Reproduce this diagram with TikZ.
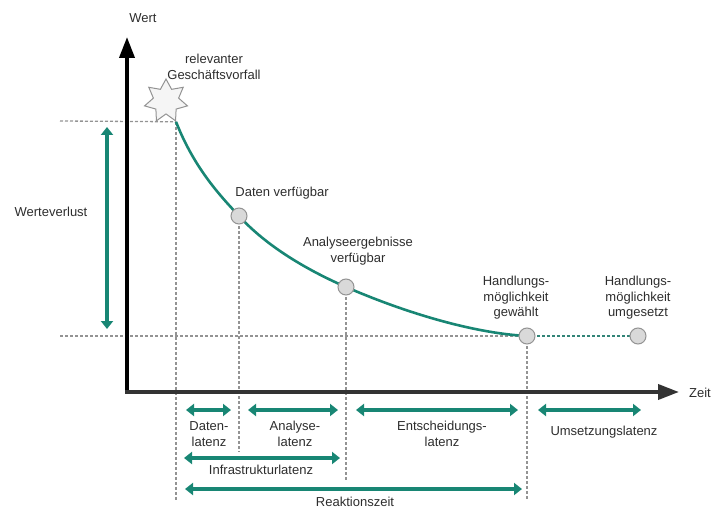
\documentclass[tikz,border=0pt]{standalone}
\usepackage{fontspec}
\setmainfont{Liberation Sans}
\usetikzlibrary{arrows.meta,shapes.geometric,positioning}
\definecolor{latgreen}{RGB}{24,134,116}
\definecolor{txtgray}{RGB}{45,45,45}

\begin{document}
\begin{tikzpicture}[x=1pt,y=-1pt,
  lbl/.style={font=\fontsize{13}{15.5}\selectfont, text=txtgray, align=center, inner sep=1pt},
  eventnode/.style={circle, draw=gray!85, fill=gray!30, line width=1pt, minimum size=16pt, inner sep=0pt},
  guide/.style={draw=gray!85, line width=1.3pt, dash pattern=on 3pt off 2pt},
  span/.style={draw=latgreen, line width=4.6pt, {Triangle[width=12pt,length=8pt]}-{Triangle[width=12pt,length=8pt]}},
  axis/.style={line width=3.8pt, line cap=rect, -{Triangle[width=15pt,length=21pt]}}]
  \useasboundingbox (0,0) rectangle (713,508);

  % axes
  \coordinate (origin) at (127,392);
  \coordinate (ytip) at (127,37);
  \coordinate (xtip) at (679,392);
  \node[lbl] (wert) at (143,18) {Wert};
  \node[lbl] (zeit) at (700,393) {Zeit};

  % events
  \node[star, star points=7, star point ratio=1.7, minimum size=44pt, inner sep=0pt,
        draw=gray!85, fill=gray!8, line width=1pt] (vorfall) at (166,101) {};
  \coordinate (start) at (vorfall.outer point 5);
  \node[lbl] (lvorfall) at (214,67) {relevanter\\Geschäftsvorfall};

  \coordinate (daten) at (239,216);
  \coordinate (analyse) at (346,287);
  \coordinate (gewaehlt) at (527,336);
  \coordinate (umgesetzt) at (638,336);

  % guide lines
  \coordinate (topleft) at (60,121);
  \coordinate (baseleft) at (60,336);
  \draw[guide] (topleft) -- (start);
  \draw[guide] (baseleft) -- (gewaehlt);
  \draw[guide] (start) -- ++(0,379);
  \draw[guide] (daten) -- ++(0,236);
  \draw[guide] (analyse) -- ++(0,193);
  \draw[guide] (gewaehlt) -- ++(0,164);
  \draw[guide, draw=latgreen!75!gray] (gewaehlt) -- (umgesetzt);

  \draw[axis] (origin) -- (ytip);
  \draw[axis, black!80] (origin) -- (xtip);

  % value curve
  \draw[latgreen, line width=2.6pt] (start)
    .. controls (195,170) and (222,197.5) .. (daten)
    .. controls (270,250) and (315,273.5) .. (analyse)
    .. controls (400,310.5) and (470,333) .. (gewaehlt);

  \node[eventnode] (edaten) at (daten) {};
  \node[eventnode] (eanalyse) at (analyse) {};
  \node[eventnode] (egewaehlt) at (gewaehlt) {};
  \node[eventnode] (eumgesetzt) at (umgesetzt) {};

  \node[lbl] (ldaten) at (282,193) {Daten verfügbar};
  \node[lbl] (lanalyse) at (358,251) {Analyseergebnisse\\verfügbar};
  \node[lbl] (lgewaehlt) at (516,298) {Handlungs-\\möglichkeit\\gewählt};
  \node[lbl] (lumgesetzt) at (638,298) {Handlungs-\\möglichkeit\\umgesetzt};

  % value loss
  \coordinate (wvtop) at (107,127);
  \coordinate (wvbot) at (107,329);
  \draw[span] (wvtop) -- (wvbot);
  \node[lbl] (lwv) at (51,212) {Werteverlust};

  % latencies
  \coordinate (dl1) at (186,410); \coordinate (dl2) at (231,410);
  \coordinate (al1) at (248,410); \coordinate (al2) at (338,410);
  \coordinate (el1) at (356,410); \coordinate (el2) at (518,410);
  \coordinate (ul1) at (538,410); \coordinate (ul2) at (641,410);
  \coordinate (il1) at (184,458); \coordinate (il2) at (340,458);
  \coordinate (rz1) at (185,489); \coordinate (rz2) at (522,489);
  \draw[span] (dl1) -- (dl2);
  \draw[span] (al1) -- (al2);
  \draw[span] (el1) -- (el2);
  \draw[span] (ul1) -- (ul2);
  \draw[span] (il1) -- (il2);
  \draw[span] (rz1) -- (rz2);

  \node[lbl] (ldl) at (209,434) {Daten-\\latenz};
  \node[lbl] (lal) at (295,434) {Analyse-\\latenz};
  \node[lbl] (lel) at (442,434) {Entscheidungs-\\latenz};
  \node[lbl] (lul) at (604,432) {Umsetzungslatenz};
  \node[lbl] (lil) at (261,470) {Infrastrukturlatenz};
  \node[lbl] (lrz) at (355,502) {Reaktionszeit};
\end{tikzpicture}
\end{document}
